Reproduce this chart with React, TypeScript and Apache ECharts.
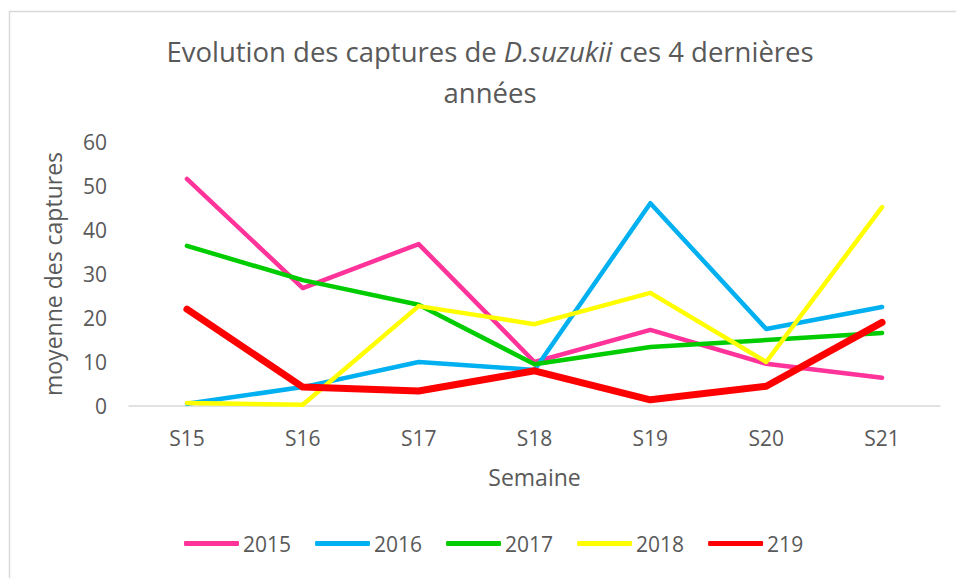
import React, { useEffect, useRef } from "react";
import * as echarts from "echarts";

const weeks = ["S15", "S16", "S17", "S18", "S19", "S20", "S21"];
const s2015 = [51.6, 26.8, 36.8, 10, 17.3, 9.6, 6.4];
const s2016 = [0.5, 4.3, 10, 8.2, 46.1, 17.5, 22.5];
const s2017 = [36.4, 28.6, 23, 9.5, 13.4, 15, 16.6];
const s2018 = [0.7, 0.3, 22.7, 18.6, 25.7, 10, 45.2];
const s219 = [22, 4.3, 3.4, 8, 1.4, 4.5, 19];
const yTicks = [0, 10, 20, 30, 40, 50, 60];

const FONT = "'Open Sans', 'Noto Sans', sans-serif";
const GREY = "#595959";

export default function App() {
  const ref = useRef<HTMLDivElement>(null);
  useEffect(() => {
    const chart = echarts.init(ref.current!, null, { renderer: "svg" });
    const mk = (name: string, data: number[], color: string, width: number) => ({
      name,
      type: "line",
      data,
      showSymbol: false,
      symbol: "none",
      lineStyle: { color, width, cap: "round", join: "round" },
      itemStyle: { color },
      z: name === "219" ? 5 : 2,
    });
    chart.setOption({
      animation: false,
      backgroundColor: "#ffffff",
      textStyle: { fontFamily: FONT },
      graphic: [
        {
          type: "rect",
          shape: { x: 9.5, y: 11.5, width: 1000, height: 700 },
          style: { fill: "none", stroke: "#d9d9d9", lineWidth: 1.5 },
          silent: true,
        },
        {
          type: "text",
          x: 490,
          y: 51,
          style: {
            text: "{n|Evolution des captures de }{i|D.suzukii}{n| ces 4 dernières}",
            align: "center",
            verticalAlign: "middle",
            rich: {
              n: { fontFamily: FONT, fontSize: 27.5, fill: GREY },
              i: { fontFamily: FONT, fontSize: 27.5, fill: GREY, fontStyle: "italic" },
            },
          },
        },
        {
          type: "text",
          x: 490,
          y: 92,
          style: {
            text: "années",
            align: "center",
            verticalAlign: "middle",
            fontFamily: FONT,
            fontSize: 27.5,
            fill: GREY,
          },
        },
      ],
      grid: { left: 129, right: 16, top: 142, bottom: 172, containLabel: false },
      legend: {
        bottom: 19,
        left: 179,
        itemWidth: 55,
        itemHeight: 5,
        itemGap: 24,
        icon: "roundRect",
        textStyle: { color: GREY, fontSize: 21, fontFamily: FONT, padding: [0, 0, 0, -1] },
        data: ["2015", "2016", "2017", "2018", "219"],
      },
      xAxis: {
        type: "category",
        data: weeks,
        boundaryGap: true,
        name: "Semaine",
        nameLocation: "middle",
        nameGap: 59,
        nameTextStyle: { color: GREY, fontSize: 23, fontFamily: FONT },
        axisLine: { lineStyle: { color: "#d9d9d9", width: 1.5 } },
        axisTick: { show: false },
        axisLabel: { color: GREY, fontSize: 21, margin: 21, fontFamily: FONT },
      },
      yAxis: {
        type: "value",
        min: 0,
        max: 60,
        interval: 10,
        name: "moyenne des captures",
        nameLocation: "middle",
        nameGap: 65,
        nameTextStyle: { color: GREY, fontSize: 23, fontFamily: FONT },
        axisLine: { show: false },
        axisTick: { show: false },
        splitLine: { show: false },
        axisLabel: {
          color: GREY,
          fontSize: 21,
          margin: 22,
          fontFamily: FONT,
          formatter: (v: number) => (yTicks.includes(v) ? String(v) : ""),
        },
      },
      series: [
        mk("2015", s2015, "#FF3399", 4.5),
        mk("2016", s2016, "#00B0F0", 4.5),
        mk("2017", s2017, "#00CC00", 4.5),
        mk("2018", s2018, "#FFFF00", 4.5),
        mk("219", s219, "#FF0000", 7),
      ],
    });
    return () => chart.dispose();
  }, []);
  return <div ref={ref} style={{ width: 956, height: 578, position: "absolute", left: 0, top: 0 }} />;
}
